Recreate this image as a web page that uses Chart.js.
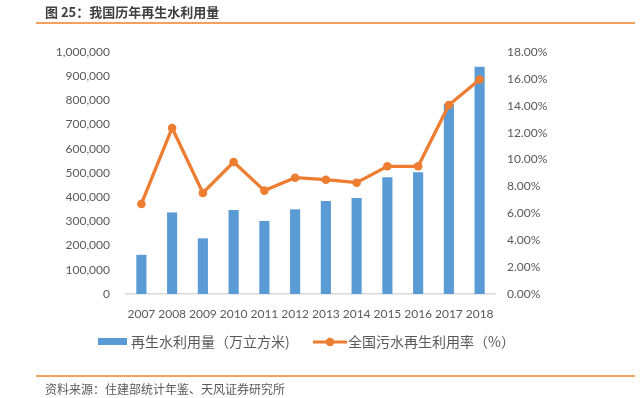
<!DOCTYPE html>
<html lang="zh">

<head>
  <meta charset="UTF-8" />
  <title>我国历年再生水利用量</title>
  <script src="https://cdn.jsdelivr.net/npm/chart.js"></script>
  <style>
    html, body { margin: 0; padding: 0; background: #fff; }
    .page { position: relative; width: 644px; height: 398px; overflow: hidden; font-family: "Noto Sans CJK SC", sans-serif; }
    .title { position: absolute; left: 45px; top: 2px; font-size: 13px; font-weight: bold; color: #404040; }
    .rule { position: absolute; left: 36px; width: 599px; height: 2px; background: #F4A259; }
    .source { position: absolute; left: 45px; top: 380px; font-size: 12px; color: #595959; }
    #chart { position: absolute; left: 0; top: 0; }
  </style>
</head>

<body>
  <div class="page">
    <canvas id="chart" width="644" height="398"></canvas>
    <div class="title">图 25：我国历年再生水利用量</div>
    <div class="rule" style="top:22px"></div>
    <div class="rule" style="top:375px"></div>
    <div class="source">资料来源：住建部统计年鉴、天风证券研究所</div>
  </div>

  <script>
    const years = ["2007", "2008", "2009", "2010", "2011", "2012", "2013", "2014", "2015", "2016", "2017", "2018"];
    const volumeLabel = "再生水利用量（万立方米)";
    const rateLabel = "全国污水再生利用率（%）";
    // 再生水利用量（万立方米）
    const volume = [162000, 337000, 230000, 347000, 302000, 350000, 384000, 397000, 482000, 503000, 785000, 939000];
    // 全国污水再生利用率（%）
    const rate = [6.70, 12.35, 7.51, 9.82, 7.69, 8.65, 8.50, 8.28, 9.50, 9.50, 14.06, 15.95];

    const blue = "#5B9BD5";
    const orange = "#ED7D31";
    const grey = "#595959";

    // draws the legend under the axis
    const legendPlugin = {
      id: "bottomLegend",
      afterDraw(chart) {
        const ctx = chart.ctx;
        const bars = chart.data.datasets.find(d => d.type === "bar");
        const line = chart.data.datasets.find(d => d.type === "line");
        ctx.save();
        ctx.font = '14px "Noto Sans CJK SC"';
        ctx.textBaseline = "middle";

        ctx.fillStyle = bars.backgroundColor;
        ctx.fillRect(98, 338, 29, 7);
        ctx.fillStyle = grey;
        ctx.fillText(bars.label, 131, 342);

        ctx.strokeStyle = line.borderColor;
        ctx.lineWidth = 3;
        ctx.beginPath();
        ctx.moveTo(313, 342);
        ctx.lineTo(347, 342);
        ctx.stroke();
        ctx.fillStyle = line.borderColor;
        ctx.beginPath();
        ctx.arc(330, 342, 4.3, 0, Math.PI * 2);
        ctx.fill();
        ctx.fillStyle = grey;
        ctx.fillText(line.label, 348, 342);
        ctx.restore();
      }
    };

    new Chart(document.getElementById("chart"), {
      type: "bar",
      data: {
        labels: years,
        datasets: [
          {
            type: "bar",
            label: volumeLabel,
            data: volume,
            yAxisID: "y",
            backgroundColor: blue,
            categoryPercentage: 1,
            barPercentage: 0.33,
            order: 1
          },
          {
            type: "line",
            label: rateLabel,
            data: rate,
            yAxisID: "y1",
            borderColor: orange,
            backgroundColor: orange,
            borderWidth: 3.3,
            pointRadius: 4.3,
            pointBackgroundColor: orange,
            pointBorderWidth: 0,
            tension: 0,
            order: 0
          }
        ]
      },
      options: {
        responsive: false,
        animation: false,
        layout: { padding: { top: 52, left: 0, right: 0, bottom: 0 } },
        plugins: {
          legend: { display: false },
          tooltip: { enabled: false }
        },
        scales: {
          x: {
            grid: { display: false },
            border: { display: true, color: "#D9D9D9", width: 1.5 },
            ticks: { color: grey, font: { family: "Lato", size: 12 }, padding: 5, maxRotation: 0, autoSkip: false },
            afterFit: s => { s.height = 104; }
          },
          y: {
            position: "left",
            min: 0,
            max: 1000000,
            grid: { display: false, drawTicks: false },
            border: { display: false },
            ticks: {
              stepSize: 100000,
              color: grey,
              padding: 16,
              font: { family: "Lato", size: 12 },
              callback: v => v.toLocaleString("en-US")
            },
            afterFit: s => { s.width = 126; }
          },
          y1: {
            position: "right",
            min: 0,
            max: 18,
            grid: { display: false, drawTicks: false },
            border: { display: false },
            ticks: {
              stepSize: 2,
              color: grey,
              padding: 12,
              font: { family: "Lato", size: 12 },
              callback: v => v.toFixed(2) + "%"
            },
            afterFit: s => { s.width = 149; }
          }
        }
      },
      plugins: [legendPlugin]
    });
  </script>
</body>

</html>
